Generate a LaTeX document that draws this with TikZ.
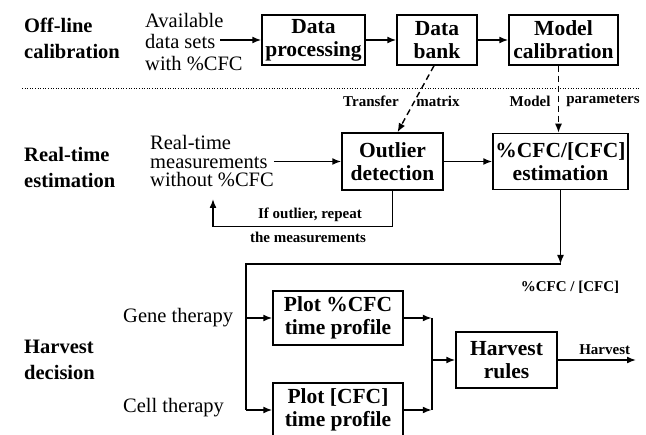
\documentclass[tikz,border=0pt]{standalone}
\usepackage{fontspec}
\setmainfont{Liberation Serif}
\usetikzlibrary{arrows.meta,positioning,calc}

\newcommand{\boxfont}{\fontsize{21.5}{23}\selectfont\bfseries}
\newcommand{\secfont}{\fontsize{20.5}{26}\selectfont\bfseries}
\newcommand{\txtfont}{\fontsize{20.5}{18.5}\selectfont}
\newcommand{\labfont}{\fontsize{15}{21}\selectfont\bfseries}

\tikzset{
  blk/.style={draw, line width=1.5pt, align=center, font=\boxfont, inner sep=1pt},
  sec/.style={align=left, anchor=west, font=\secfont, inner sep=0pt},
  txt/.style={align=left, anchor=west, font=\txtfont, inner sep=0pt},
  lab/.style={font=\labfont, inner sep=1pt},
  arr/.style={line width=1.5pt, -{Latex[length=9pt,width=7pt]}},
  wire/.style={line width=1.5pt},
  dsh/.style={line width=1.4pt, dash pattern=on 6pt off 4pt, -{Latex[length=9pt,width=7pt]}},
}

\begin{document}
\begin{tikzpicture}[x=1pt,y=-1pt]
  \useasboundingbox (0,0) rectangle (646,435);

  % section titles
  \node[sec] (offline)  at (24,38.5) {Off-line\\calibration};
  \node[sec] (realtime) at (24,167)  {Real-time\\estimation};
  \node[sec] (harvdec)  at (24,360)  {Harvest\\decision};

  % off-line row
  \node[txt, font=\fontsize{20.5}{21.5}\selectfont] (avail) at (145,42) {Available\\data sets\\with \%CFC};
  \node[blk, minimum width=103pt, minimum height=50pt] (dp) at (313.5,40) {Data\\processing};
  \node[blk, minimum width=80pt, minimum height=50pt, on grid, right=123.5pt of dp] (db) {Data\\bank};
  \node[blk, minimum width=109pt, minimum height=50pt, on grid, right=126.5pt of db] (mc) {Model\\calibration};
  \coordinate (availout) at (220,40);

  \draw[arr] (availout) -- (dp.west);
  \draw[arr] (dp) -- (db);
  \draw[arr] (db) -- (mc);

  \coordinate (sepL) at (22,89);
  \coordinate (sepR) at (640,89);
  \draw[line width=1pt, dash pattern=on 1pt off 1.6pt] (sepL) -- (sepR);

  % real-time row
  \node[txt] (meas) at (150,161.5) {Real-time\\measurements\\without \%CFC};
  \node[blk, minimum width=101pt, minimum height=57pt] (outl) at (392.5,161.5) {Outlier\\detection};
  \node[blk, minimum width=135pt, minimum height=56pt] (est) at (560.5,161.5) {\%CFC/[CFC]\\estimation};

  \draw[dsh] ([xshift=-3pt]db.south) -- ([xshift=5pt]outl.north);
  \draw[dsh] ([xshift=-5pt]mc.south) -- ([xshift=-5pt]mc.south |- est.north);
  \node[lab] (lbltrans) at (371,101) {Transfer};
  \node[lab] (lblmatrix) at (438,101) {matrix};
  \node[lab] (lblmodel) at (530,101) {Model};
  \node[lab] (lblparam) at (603,101) {parameters};

  \draw[arr] (meas) -- (outl);
  \draw[arr] (outl) -- (est);

  \coordinate (retry) at (213,199);
  \draw[arr] (outl.south) -- ++(0,36) coordinate (fbcorner) -| (retry);
  \node[lab] (lblif) at (310,215) {If outlier, repeat};
  \node[lab] (lblthe) at (308,237) {the measurements};

  % harvest decision
  \node[txt] (gene) at (123,318) {Gene therapy};
  \node[txt] (cell) at (123,408) {Cell therapy};
  \node[blk, minimum width=130pt, minimum height=54pt] (plotA) at (338,318) {Plot \%CFC\\time profile};
  \node[blk, minimum width=130pt, minimum height=54pt, on grid, below=92pt of plotA] (plotB) {Plot [CFC]\\time profile};
  \node[blk, minimum width=101pt, minimum height=56pt] (rules) at (506.5,360) {Harvest\\rules};

  \coordinate (busR) at (est.south |- 0,264);
  \coordinate (busL) at (246,264);
  \draw[arr] (est.south) -- (busR);
  \draw[wire] (busR) -- (busL) -- (busL |- plotB.west);
  \node[lab] (lblcfc) at (570,287) {\%CFC / [CFC]};
  \draw[arr] (busL |- plotA.west) -- (plotA.west);
  \draw[arr] (busL |- plotB.west) -- (plotB.west);

  \path (plotA.east) ++(28,0) coordinate (mrgA);
  \path (plotB.east) ++(28,0) coordinate (mrgB);
  \draw[arr] (plotA.east) -- (mrgA);
  \draw[arr] (plotB.east) -- (mrgB);
  \draw[wire] (mrgA) -- (mrgB);
  \draw[arr] (mrgA |- rules.west) -- (rules.west);

  \coordinate (harvout) at (636,360);
  \draw[arr] (rules.east) -- node[lab, above=4pt, pos=0.6] (lblharv) {Harvest} (harvout);
\end{tikzpicture}
\end{document}
